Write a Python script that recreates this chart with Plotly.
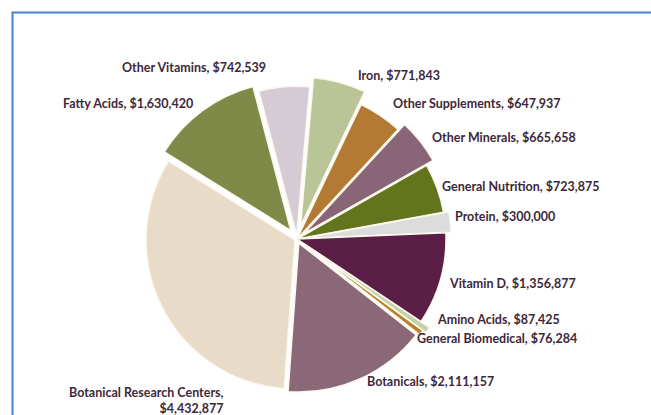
import plotly.graph_objects as go

# Funding by research area, listed clockwise from 12 o'clock
categories = [
    "Iron", "Other Supplements", "Other Minerals", "General Nutrition",
    "Protein", "Vitamin D", "Amino Acids", "General Biomedical",
    "Botanicals", "Botanical Research Centers", "Fatty Acids", "Other Vitamins",
]
amounts = [
    771843, 647937, 665658, 723875,
    300000, 1356877, 87425, 76284,
    2111157, 4432877, 1630420, 742539,
]
colors = [
    "#b9c497", "#b27a32", "#886577", "#62741c",
    "#dddcdc", "#5a1e47", "#c5d0a6", "#b5832e",
    "#8a6878", "#e8dcc8", "#7f8a48", "#d5cbd5",
]
pulls = [0.09, 0.0, 0.055, 0.0, 0.035, 0.0, 0.07, 0.045, 0.03, 0.015, 0.07, 0.025]

# Label anchor positions in pixels (x, y from top) and horizontal alignment
W, H = 651, 415
label_pos = {
    "Iron": (356, 75, "left"),
    "Other Supplements": (391, 104, "left"),
    "Other Minerals": (430, 137, "left"),
    "General Nutrition": (440, 186, "left"),
    "Protein": (453, 216, "left"),
    "Vitamin D": (447, 283, "left"),
    "Amino Acids": (435, 319, "left"),
    "General Biomedical": (415, 338, "left"),
    "Botanicals": (365, 381, "left"),
    "Botanical Research Centers": (226, 400, "right"),
    "Fatty Acids": (195, 103, "right"),
    "Other Vitamins": (268, 68, "right"),
}

cx, cy, r_out = 297, 239, 149 * (1 + max(pulls))
fig = go.Figure(go.Pie(
    labels=categories,
    values=amounts,
    sort=False,
    direction="clockwise",
    rotation=5,
    pull=pulls,
    marker=dict(colors=colors, line=dict(color="#fbf8ee", width=1.5)),
    textinfo="none",
    hoverinfo="label+value",
    showlegend=False,
    domain=dict(
        x=[(cx - r_out) / W, (cx + r_out) / W],
        y=[(H - cy - r_out) / H, (H - cy + r_out) / H],
    ),
))

font = dict(family="Lato, Open Sans, sans-serif", size=12.5, color="#3d283a")
annotations = []
for name, val in zip(categories, amounts):
    x, y, align = label_pos[name]
    if name == "Botanical Research Centers":
        text = f"<b>{name},</b><br><b>${val:,}</b>"
    else:
        text = f"<b>{name}, ${val:,}</b>"
    annotations.append(dict(
        x=x / W, y=1 - y / H, xref="paper", yref="paper",
        text=text, showarrow=False, xanchor=align, yanchor="middle",
        align=align, font=font,
    ))

# Frame drawn as a single open path: left edge and top edge only
fx, fy = 12.5 / W, 1 - 12.5 / H
fig.update_layout(
    width=W, height=H,
    margin=dict(l=0, r=0, t=0, b=0),
    paper_bgcolor="white",
    plot_bgcolor="white",
    annotations=annotations,
    shapes=[dict(
        type="path", xref="paper", yref="paper",
        path=f"M {fx},0 L {fx},{fy} L 1,{fy}",
        line=dict(color="#4a80d0", width=2), layer="above",
    )],
)

fig.write_html("out.html")
